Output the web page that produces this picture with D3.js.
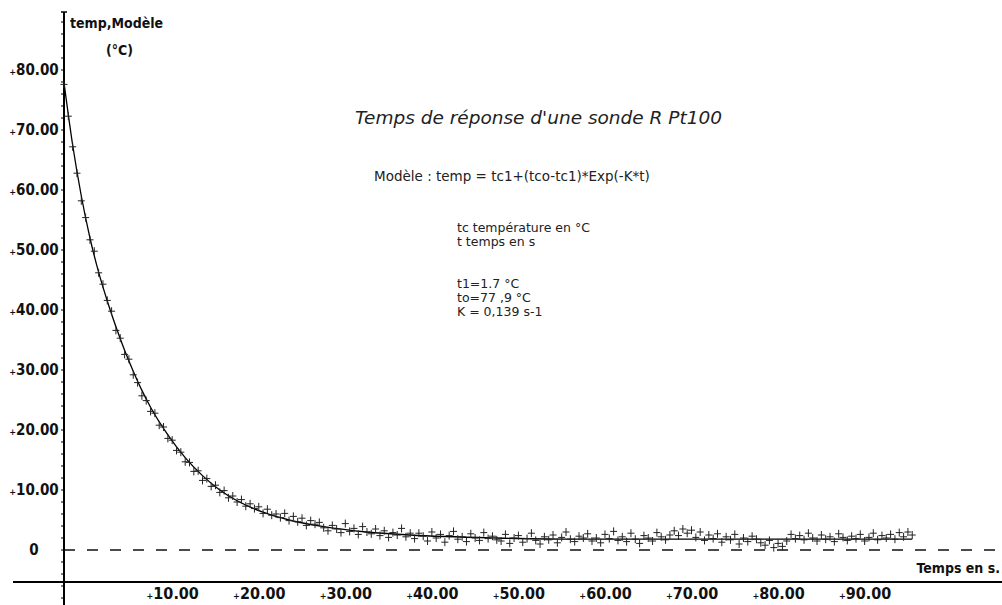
<!DOCTYPE html>
<html>
<head>
<meta charset="utf-8">
<script src="https://cdn.jsdelivr.net/npm/d3@7"></script>
<style>
  body { margin: 0; background: #fff; }
  svg { display: block; }
  .lbl { font-family: "Liberation Sans Narrow", "DejaVu Sans Condensed", "Liberation Sans", sans-serif; font-weight: bold; fill: #111; }
  .txt { font-family: "DejaVu Sans", "Liberation Sans", sans-serif; fill: #222; }
</style>
</head>
<body>
<div id="chart"></div>
<script>
// mesures : une valeur toutes les 0,5 s
var timeStep = 0.5;
var tempValues = [
  77.6, 72.3, 67.2, 62.8, 58.2, 55.4, 51.7, 49.8, 46.2, 44.3,
  41.6, 39.8, 36.6, 35.3, 32.6, 31.8, 29.2, 27.9, 25.7, 24.9,
  23.1, 22.8, 20.8, 20.5, 18.6, 18.3, 16.6, 16.3, 14.7, 14.6,
  13.1, 13.2, 11.6, 11.9, 10.6, 10.8, 9.6, 9.9, 8.7, 9.0,
  8.0,
  8.4, 7.3, 7.7, 6.9, 7.2, 6.1, 6.8, 5.8, 6.0, 5.4,
  6.1, 4.9, 5.6, 4.7, 5.3, 4.1, 4.9, 4.3, 4.6, 3.7,
  3.2, 4.1, 3.5, 2.9, 4.4, 3.1, 3.6, 2.6, 3.9, 3.0,
  2.7, 3.5, 2.4, 3.2, 2.1, 2.9, 2.5, 3.6, 2.2, 2.8,
  1.9, 2.8, 2.3, 1.5, 3.0, 2.0, 2.6, 1.3, 2.4, 3.1,
  1.8, 2.2, 1.4, 2.7, 2.0, 1.6, 2.9, 1.9, 2.3, 1.7,
  1.5, 2.6, 1.1, 2.0, 2.4, 1.3, 1.9, 2.8, 1.6, 1.0,
  2.2, 1.7, 2.5, 1.2, 2.1, 3.0, 1.8, 1.4, 2.3, 2.0,
  2.7, 1.5, 2.0, 1.2, 2.6, 1.9, 3.1, 1.6, 2.2, 1.4,
  2.8, 1.8, 1.1, 2.4, 2.0, 1.5, 2.9, 2.2, 1.7, 2.5,
  3.2, 2.4, 3.5, 2.8, 3.3, 2.1, 3.0, 1.6, 2.5, 1.9,
  2.7, 1.3, 2.2, 1.7, 2.6, 1.0, 2.0, 1.4, 2.3, 1.8,
  1.2, 0.8, 1.6, 0.4, 1.1, 0.6, 1.5, 2.6, 1.9, 2.4,
  1.7, 2.8, 2.0, 1.5, 2.5, 1.8, 2.2, 1.4, 2.7, 2.1,
  1.6, 2.3, 1.9, 2.6, 1.5, 2.1, 2.8, 1.7, 2.4, 2.0,
  2.6, 1.8, 2.9, 2.2, 3.0, 2.5
];

// courbe du modèle
var modelTimes = [0, 1, 2, 3, 4, 5, 6, 7, 8, 9, 10, 12, 14, 16, 18, 20, 23, 26, 30, 35, 40, 50, 60, 70, 80, 90, 98];
var modelValues = [77.9, 67.5, 59.0, 52.0, 46.3, 41.5, 37.2, 33.3, 29.8, 26.6, 23.8, 19.2, 15.4, 12.4, 10.0, 8.2, 6.3, 5.0, 3.9, 3.0, 2.5, 2.0, 1.8, 1.8, 1.8, 1.8, 1.8];

var xTicks = [10, 20, 30, 40, 50, 60, 70, 80, 90];
var yTicks = [0, 10, 20, 30, 40, 50, 60, 70, 80];

var notes = [
  "tc  température en °C",
  "t temps en s",
  "",
  "",
  "t1=1.7 °C",
  "to=77 ,9 °C",
  "K = 0,139 s-1"
];

var width = 1002, height = 605;

var svg = d3.select("#chart").append("svg")
    .attr("width", width)
    .attr("height", height);

var x = d3.scaleLinear().domain([0, 90]).range([64, 843]);
var y = d3.scaleLinear().domain([0, 80]).range([550, 70]);

var points = tempValues.map(function(v, i) { return { t: i * timeStep, v: v }; });
var model = modelTimes.map(function(t, i) { return { t: t, v: modelValues[i] }; });

// ligne du zéro en pointillés
svg.append("line")
    .attr("x1", x(0)).attr("x2", width)
    .attr("y1", y(0)).attr("y2", y(0))
    .attr("stroke", "#111")
    .attr("stroke-width", 1.5)
    .attr("stroke-dasharray", "11,12");

// axes
svg.append("line")
    .attr("x1", x(0)).attr("x2", x(0))
    .attr("y1", 12).attr("y2", height)
    .attr("stroke", "#000").attr("stroke-width", 2);
svg.append("line")
    .attr("x1", x(0) - 3).attr("x2", x(0) + 3)
    .attr("y1", 12).attr("y2", 12)
    .attr("stroke", "#000").attr("stroke-width", 1.5);
svg.append("line")
    .attr("x1", 13).attr("x2", width)
    .attr("y1", 582).attr("y2", 582)
    .attr("stroke", "#000").attr("stroke-width", 2);

// petites graduations sur l'axe vertical
svg.selectAll(".minor")
    .data(d3.range(-8, 90, 2))
    .enter().append("line")
    .attr("class", "minor")
    .attr("x1", x(0) - 3).attr("x2", x(0))
    .attr("y1", d => y(d)).attr("y2", d => y(d))
    .attr("stroke", "#000").attr("stroke-width", 1);

// étiquettes de l'axe vertical
var yl = svg.selectAll(".ylab")
    .data(yTicks)
    .enter().append("text")
    .attr("class", "lbl ylab")
    .attr("x", 34)
    .attr("y", d => y(d) + 5)
    .attr("text-anchor", "middle")
    .style("font-size", "15px");
yl.filter(d => d !== 0).append("tspan").style("font-size", "9px").text("+");
yl.append("tspan").text(d => d === 0 ? "0" : d.toFixed(2));

// étiquettes de l'axe horizontal
var xl = svg.selectAll(".xlab")
    .data(xTicks)
    .enter().append("text")
    .attr("class", "lbl xlab")
    .attr("x", d => x(d) - 4)
    .attr("y", 599)
    .style("font-size", "16px");
xl.append("tspan").style("font-size", "9px").text("+");
xl.append("tspan").text(d => d.toFixed(2));

svg.append("text").attr("class", "lbl")
    .attr("x", 1000).attr("y", 573)
    .attr("text-anchor", "end")
    .style("font-size", "14px")
    .text("Temps en s.");

svg.append("text").attr("class", "lbl")
    .attr("x", 70).attr("y", 28)
    .style("font-size", "14px")
    .text("temp,Modèle");
svg.append("text").attr("class", "lbl")
    .attr("x", 106).attr("y", 55)
    .style("font-size", "14px")
    .text("(°C)");

// titre et notes
svg.append("text").attr("class", "txt")
    .attr("x", 355).attr("y", 124)
    .style("font-size", "18.5px")
    .style("font-style", "italic")
    .text("Temps de réponse d'une sonde R Pt100");

svg.append("text").attr("class", "txt")
    .attr("x", 374).attr("y", 181)
    .style("font-size", "13.5px")
    .text("Modèle : temp = tc1+(tco-tc1)*Exp(-K*t)");

svg.selectAll(".note")
    .data(notes)
    .enter().append("text")
    .attr("class", "txt note")
    .attr("x", 457)
    .attr("y", (d, i) => 232 + i * 14)
    .style("font-size", "12.5px")
    .text(d => d);

// courbe du modèle
var line = d3.line()
    .x(d => x(d.t))
    .y(d => y(d.v))
    .curve(d3.curveMonotoneX);

svg.append("path")
    .datum(model)
    .attr("fill", "none")
    .attr("stroke", "#000")
    .attr("stroke-width", 1.3)
    .attr("d", line);

// points de mesure (croix)
svg.selectAll(".pt")
    .data(points)
    .enter().append("path")
    .attr("class", "pt")
    .attr("d", d => "M" + (x(d.t) - 3.5) + "," + y(d.v) + "h7M" + x(d.t) + "," + (y(d.v) - 4) + "v8")
    .attr("stroke", "#222")
    .attr("stroke-width", 1)
    .attr("fill", "none");
</script>
</body>
</html>
